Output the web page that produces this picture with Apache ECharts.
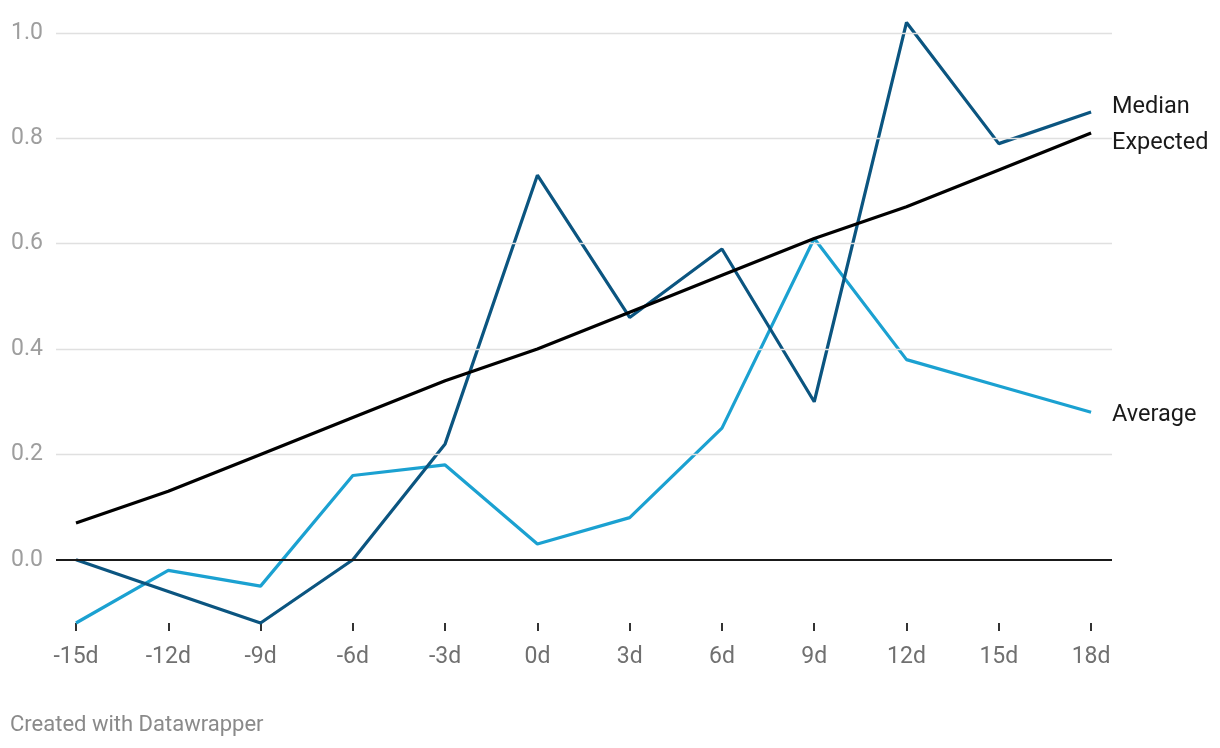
<!DOCTYPE html>
<html>
<head>
<meta charset="utf-8">
<script src="https://cdn.jsdelivr.net/npm/echarts@6/dist/echarts.min.js"></script>
<style>
html,body{margin:0;padding:0;background:#fff;}
#chart{width:1220px;height:748px;}
</style>
</head>
<body>
<div id="chart"></div>
<script>
const days = [-15, -12, -9, -6, -3, 0, 3, 6, 9, 12, 15, 18];
const xTickLabels = ['-15d','-12d','-9d','-6d','-3d','0d','3d','6d','9d','12d','15d','18d'];
const yTicks = [0, 0.2, 0.4, 0.6, 0.8, 1.0];
const expected = [0.07, 0.13, 0.20, 0.27, 0.34, 0.40, 0.47, 0.54, 0.61, 0.67, 0.74, 0.81];
const median = [0.00, -0.06, -0.12, 0.00, 0.22, 0.73, 0.46, 0.59, 0.30, 1.02, 0.79, 0.85];
const average = [-0.12, -0.02, -0.05, 0.16, 0.18, 0.03, 0.08, 0.25, 0.61, 0.38, 0.33, 0.28];

const pairs = arr => days.map((d, i) => [d, arr[i]]);
const FONT = 'Roboto';

const chart = echarts.init(document.getElementById('chart'));
function mkSeries(name, data, color, dy, z) {
  return {
    name: name,
    type: 'line',
    data: pairs(data),
    symbol: 'none',
    clip: false,
    z: z,
    lineStyle: { color: color, width: 3.2 },
    itemStyle: { color: color },
    emphasis: { disabled: true },
    endLabel: {
      show: true,
      formatter: '{a}',
      color: '#1a1a1a',
      fontFamily: FONT,
      fontSize: 23.5,
      distance: 21,
      offset: [0, dy]
    }
  };
}
const gridSeries = {
  name: 'grid',
  type: 'line',
  data: [],
  silent: true,
  z: 1,
  markLine: {
    silent: true,
    symbol: 'none',
    label: { show: false },
    emphasis: { disabled: true },
    data: yTicks.map(v => ({
      yAxis: v,
      lineStyle: { color: v === 0 ? '#1a1a1a' : '#e0e0e0', width: v === 0 ? 2 : 1.3, type: 'solid' }
    }))
  }
};
chart.setOption({
  animation: false,
  grid: { left: 56, right: 108, top: 33, bottom: 125, containLabel: false },
  xAxis: {
    type: 'value',
    min: -15.65,
    max: 18.68,
    axisLine: { show: false, onZero: false },
    axisTick: { show: true, length: 8, customValues: days, lineStyle: { color: '#333', width: 2 } },
    axisLabel: {
      customValues: days,
      formatter: v => xTickLabels[days.indexOf(Math.round(v))],
      color: '#707070', fontFamily: FONT, fontSize: 23, margin: 23
    },
    splitLine: { show: false }
  },
  yAxis: {
    type: 'value',
    min: -0.12, max: 1,
    axisLine: { show: false },
    axisTick: { show: false },
    axisLabel: {
      customValues: yTicks,
      formatter: v => v.toFixed(1),
      color: '#9e9e9e', fontFamily: FONT, fontSize: 23, margin: 13
    },
    splitLine: { show: false }
  },
  series: [
    gridSeries,
    mkSeries('Average', average, '#1ba1d1', 3, 3),
    mkSeries('Median', median, '#0b5580', -5, 4),
    mkSeries('Expected', expected, '#000000', 10, 5)
  ],
  graphic: [{
    type: 'text', left: 10, top: 714,
    style: { text: 'Created with Datawrapper', fill: '#8a8a8a', font: '22px Roboto' }
  }]
});
</script>
</body>
</html>
